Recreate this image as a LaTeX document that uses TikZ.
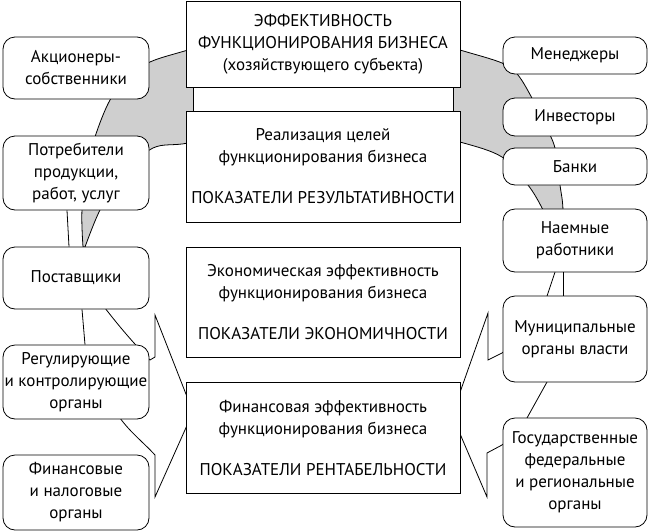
\documentclass[tikz,border=0pt]{standalone}
\usepackage{fontspec}
\setmainfont{PT Sans}
\usetikzlibrary{positioning}
\definecolor{archgray}{gray}{0.81}

\begin{document}
\begin{tikzpicture}[x=1pt,y=-1pt,line width=0.8pt,
    sidebox/.style={draw,fill=white,rounded corners=12pt,align=center,inner sep=0pt,
        font=\fontsize{17}{22}\selectfont},
    mainbox/.style={draw,fill=white,align=center,inner sep=0pt,minimum width=274pt,
        font=\fontsize{17}{22}\selectfont}]
    \useasboundingbox (0,0) rectangle (651,531);
    % gray arch behind the boxes
    \filldraw[fill=archgray] plot[smooth,tension=0.55] coordinates {(83,247) (82,210) (88,170) (95,137) (110,100) (128,78) (150,62) (188,50) (250,32) (323,26) (398,32) (460,50) (502,63) (518,75) (533,100) (545,125) (555,148) (560,185) (563,210) (563,262)}
        -- plot[smooth,tension=0.55] coordinates {(563,262) (553,235) (543,210) (528,185) (502,157) (460,142) (400,128) (323,123) (246,128) (188,143) (153,148) (122,175) (100,210) (85,247)} -- cycle;
    % left arrow
    \draw (105,308) .. controls (118,325) and (135,345) .. (150,360) -- (155,357) -- (155,315)
        -- (193,412) -- (155,497) -- (155,455) .. controls (143,442) and (130,432) .. (120,418);
    % right arrow
    \draw (555,272) -- (547,296) -- (525,335) -- (502,353) -- (488,360) -- (488,313)
        -- (452,415) -- (487,497) -- (487,453) -- (502,445) -- (520,430) -- (527,418) -- (547,382);
    % left boxes
    \node[sidebox,minimum width=146pt,minimum height=62pt] (akc) at (76,68) {Акционеры-\\собственники};
    \node[sidebox,minimum width=146pt,minimum height=74pt] (potr) at (76,173) {Потребители\\продукции,\\работ, услуг};
    \node[sidebox,minimum width=146pt,minimum height=62pt] (post) at (76,278) {Поставщики};
    \node[sidebox,minimum width=146pt,minimum height=74pt] (reg) at (76,382) {Регулирующие\\и контролирующие\\органы};
    \node[sidebox,minimum width=146pt,minimum height=75pt] (fin) at (76,492.5) {Финансовые\\и налоговые\\органы};
    \draw (potr.south -| 67,0) -- (post.north -| 69,0);
    \draw (post.south -| 82,0) -- (reg.north -| 85,0);
    % right boxes
    \node[sidebox,minimum width=144pt,minimum height=37pt] (men) at (575,55.5) {Менеджеры};
    \node[sidebox,minimum width=144pt,minimum height=38pt] (inv) at (575,117) {Инвесторы};
    \node[sidebox,minimum width=144pt,minimum height=37pt] (bank) at (575,166.5) {Банки};
    \node[sidebox,minimum width=144pt,minimum height=63pt] (naem) at (575,240.5) {Наемные\\работники};
    \node[sidebox,minimum width=144pt,minimum height=86pt] (mun) at (575,339) {Муниципальные\\органы власти};
    \node[sidebox,minimum width=144pt,minimum height=109pt] (gos) at (575,472.5) {Государственные\\федеральные\\и региональные\\органы};
    \draw (naem.south -| 563,0) -- (mun.north -| 563,0);
    % central boxes
    \draw[fill=white] (193,87) rectangle (453,111);
    \node[mainbox,minimum height=86pt] (eff) at (323,44) {ЭФФЕКТИВНОСТЬ\\ФУНКЦИОНИРОВАНИЯ БИЗНЕСА\\(хозяйствующего субъекта)};
    \node[mainbox,minimum height=111pt] (real) at (323,166.5) {Реализация целей\\функционирования бизнеса\\[19pt]ПОКАЗАТЕЛИ РЕЗУЛЬТАТИВНОСТИ};
    \node[mainbox,minimum height=110pt] (econ) at (323,302) {Экономическая эффективность\\функционирования бизнеса\\[19pt]ПОКАЗАТЕЛИ ЭКОНОМИЧНОСТИ};
    \node[mainbox,minimum height=111pt] (finef) at (323,437.5) {Финансовая эффективность\\функционирования бизнеса\\[19pt]ПОКАЗАТЕЛИ РЕНТАБЕЛЬНОСТИ};
\end{tikzpicture}
\end{document}
